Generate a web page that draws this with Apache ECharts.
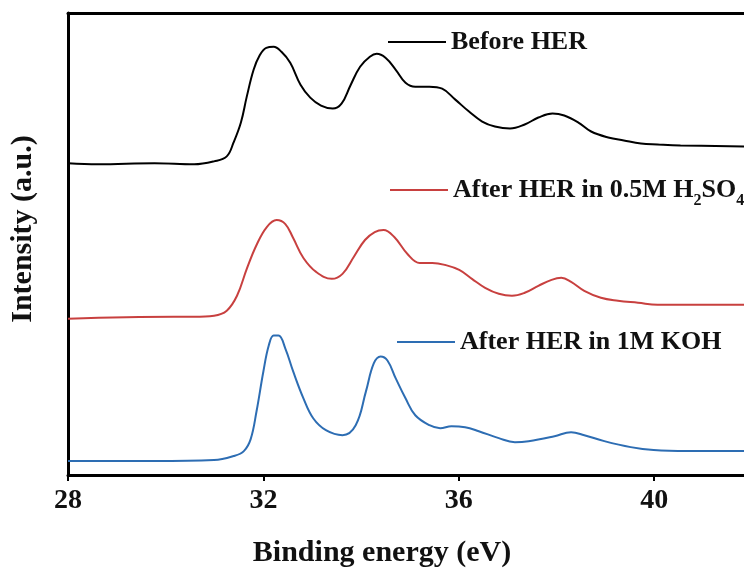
<!DOCTYPE html>
<html>
<head>
<meta charset="utf-8">
<title>W 4f XPS</title>
<script src="https://cdn.jsdelivr.net/npm/echarts@6.0.0/dist/echarts.min.js"></script>
<style>
    html, body { margin: 0; padding: 0; background: #fff; }
    #chart { width: 744px; height: 573px; }
</style>
</head>
<body>
<div id="chart"></div>
<script>
// ── 데이터 (binding energy eV, intensity a.u. — 곡선마다 세로로 띄워 놓은 값) ──
const seriesNames = ['Before HER', 'After HER in 0.5M H2SO4', 'After HER in 1M KOH'];
const seriesColors = ['#000000', '#c8403f', '#2d6db3'];

const beforeHER = [
    [28.00, 313], [28.61, 312], [29.77, 313], [30.58, 312], [30.99, 315], [31.25, 320],
    [31.39, 334], [31.54, 354], [31.66, 380], [31.80, 407], [31.92, 421], [32.06, 429],
    [32.21, 430], [32.37, 425], [32.55, 414], [32.76, 392], [32.96, 379], [33.18, 371],
    [33.42, 368], [33.60, 373], [33.78, 391], [33.98, 410], [34.18, 420], [34.32, 423],
    [34.50, 419], [34.71, 407], [34.91, 394], [35.11, 390], [35.40, 390], [35.66, 388],
    [35.93, 377], [36.21, 365], [36.48, 355], [36.74, 350], [37.05, 348], [37.35, 352],
    [37.63, 359], [37.92, 363], [38.16, 361], [38.45, 354], [38.71, 345], [39.06, 339],
    [39.38, 336], [39.73, 333], [40.07, 332], [40.54, 331], [41.84, 330]
];

const afterAcid = [
    [28.00, 157], [30.17, 159], [30.58, 159], [30.99, 160], [31.25, 165], [31.46, 180],
    [31.66, 207], [31.86, 231], [32.07, 249], [32.27, 256], [32.45, 252], [32.61, 238],
    [32.82, 218], [33.08, 204], [33.40, 197], [33.62, 202], [33.85, 219], [34.08, 236],
    [34.28, 244], [34.46, 246], [34.68, 239], [34.95, 222], [35.20, 213], [35.46, 213],
    [35.72, 211], [36.01, 206], [36.27, 197], [36.54, 188], [36.82, 182], [37.09, 180],
    [37.35, 183], [37.63, 190], [37.90, 196], [38.10, 198], [38.30, 194], [38.57, 185],
    [38.91, 178], [39.26, 175], [39.67, 173], [40.07, 171], [41.41, 171], [41.84, 171]
];

const afterAlkaline = [
    [28.00, 14], [29.77, 14], [30.99, 15], [31.39, 19], [31.60, 24], [31.74, 36],
    [31.86, 64], [32.00, 104], [32.11, 130], [32.21, 140], [32.31, 140], [32.45, 127],
    [32.61, 104], [32.82, 77], [33.02, 57], [33.28, 45], [33.62, 40], [33.89, 50],
    [34.10, 84], [34.26, 112], [34.40, 119], [34.54, 115], [34.71, 97], [34.91, 77],
    [35.11, 60], [35.40, 50], [35.62, 47], [35.85, 49], [36.13, 48], [36.41, 44],
    [36.82, 37], [37.15, 33], [37.43, 34], [37.96, 39], [38.30, 43], [38.57, 40],
    [38.98, 34], [39.52, 28], [39.99, 25], [40.68, 24], [41.84, 24]
];

const seriesData = [beforeHER, afterAcid, afterAlkaline];

const xTicks = [28, 32, 36, 40];
const xMin = 28;
const xMax = 41.84;

// ── 스타일 ──
const FONT = '"Liberation Serif", "Times New Roman", serif';
const AXIS_LINE = { show: true, onZero: false, lineStyle: { color: '#000', width: 3 } };

// 범례는 곡선 옆에 하나씩 놓는다
const legendSpots = [
    { left: 388, top: 29 },
    { left: 390, top: 177 },
    { left: 397, top: 329 }
];

function legendLabel(name) {
    if (name === 'After HER in 0.5M H2SO4') {
        return '{a|After HER in 0.5M H}{s|2}{a|SO}{s|4}';
    }
    return '{a|' + name + '}';
}

const chart = echarts.init(document.getElementById('chart'), null, { renderer: 'canvas' });

chart.setOption({
    backgroundColor: '#fff',
    animation: false,
    grid: { left: 63, right: 0, top: 13, bottom: 96 },
    legend: seriesNames.map(function (name, i) {
        return {
            data: [name],
            left: legendSpots[i].left,
            top: legendSpots[i].top,
            padding: 0,
            icon: 'rect',
            itemWidth: 58,
            itemHeight: 2,
            selectedMode: false,
            formatter: legendLabel,
            textStyle: {
                rich: {
                    a: { fontFamily: FONT, fontWeight: 'bold', fontSize: 26, lineHeight: 26, color: '#111' },
                    s: { fontFamily: FONT, fontWeight: 'bold', fontSize: 16, lineHeight: 16,
                         padding: [16, 0, 0, 0], verticalAlign: 'top', color: '#111' }
                }
            }
        };
    }),
    xAxis: [{
        type: 'value',
        position: 'bottom',
        min: xMin,
        max: xMax,
        interval: 4,
        name: 'Binding energy (eV)',
        nameLocation: 'middle',
        nameGap: 63,
        nameTextStyle: {
            fontFamily: FONT, fontWeight: 'bold', fontSize: 30, color: '#111',
            padding: [0, 48, 0, 0]
        },
        axisLine: AXIS_LINE,
        axisTick: { show: true, inside: false, length: 6, lineStyle: { color: '#000', width: 2 } },
        axisLabel: {
            margin: 12,
            showMaxLabel: false,
            fontFamily: FONT, fontWeight: 'bold', fontSize: 28, color: '#111',
            formatter: function (v) { return xTicks.indexOf(v) >= 0 ? String(v) : ''; }
        },
        splitLine: { show: false }
    }, {
        // 위쪽 테두리
        type: 'value',
        position: 'top',
        min: xMin,
        max: xMax,
        axisLine: AXIS_LINE,
        axisTick: { show: false },
        axisLabel: { show: false },
        splitLine: { show: false }
    }],
    yAxis: {
        type: 'value',
        min: 0,
        max: 464,
        name: 'Intensity (a.u.)',
        nameLocation: 'middle',
        nameGap: 30,
        nameRotate: 90,
        nameTextStyle: {
            fontFamily: FONT, fontWeight: 'bold', fontSize: 30, color: '#111',
            padding: [0, 0, 0, 30]
        },
        axisLine: AXIS_LINE,
        axisTick: { show: false },
        axisLabel: { show: false },
        splitLine: { show: false }
    },
    series: seriesNames.map(function (name, i) {
        return {
            name: name,
            type: 'line',
            data: seriesData[i],
            smooth: 0.4,
            showSymbol: false,
            color: seriesColors[i],
            lineStyle: { color: seriesColors[i], width: 2 }
        };
    })
});
</script>
</body>
</html>
